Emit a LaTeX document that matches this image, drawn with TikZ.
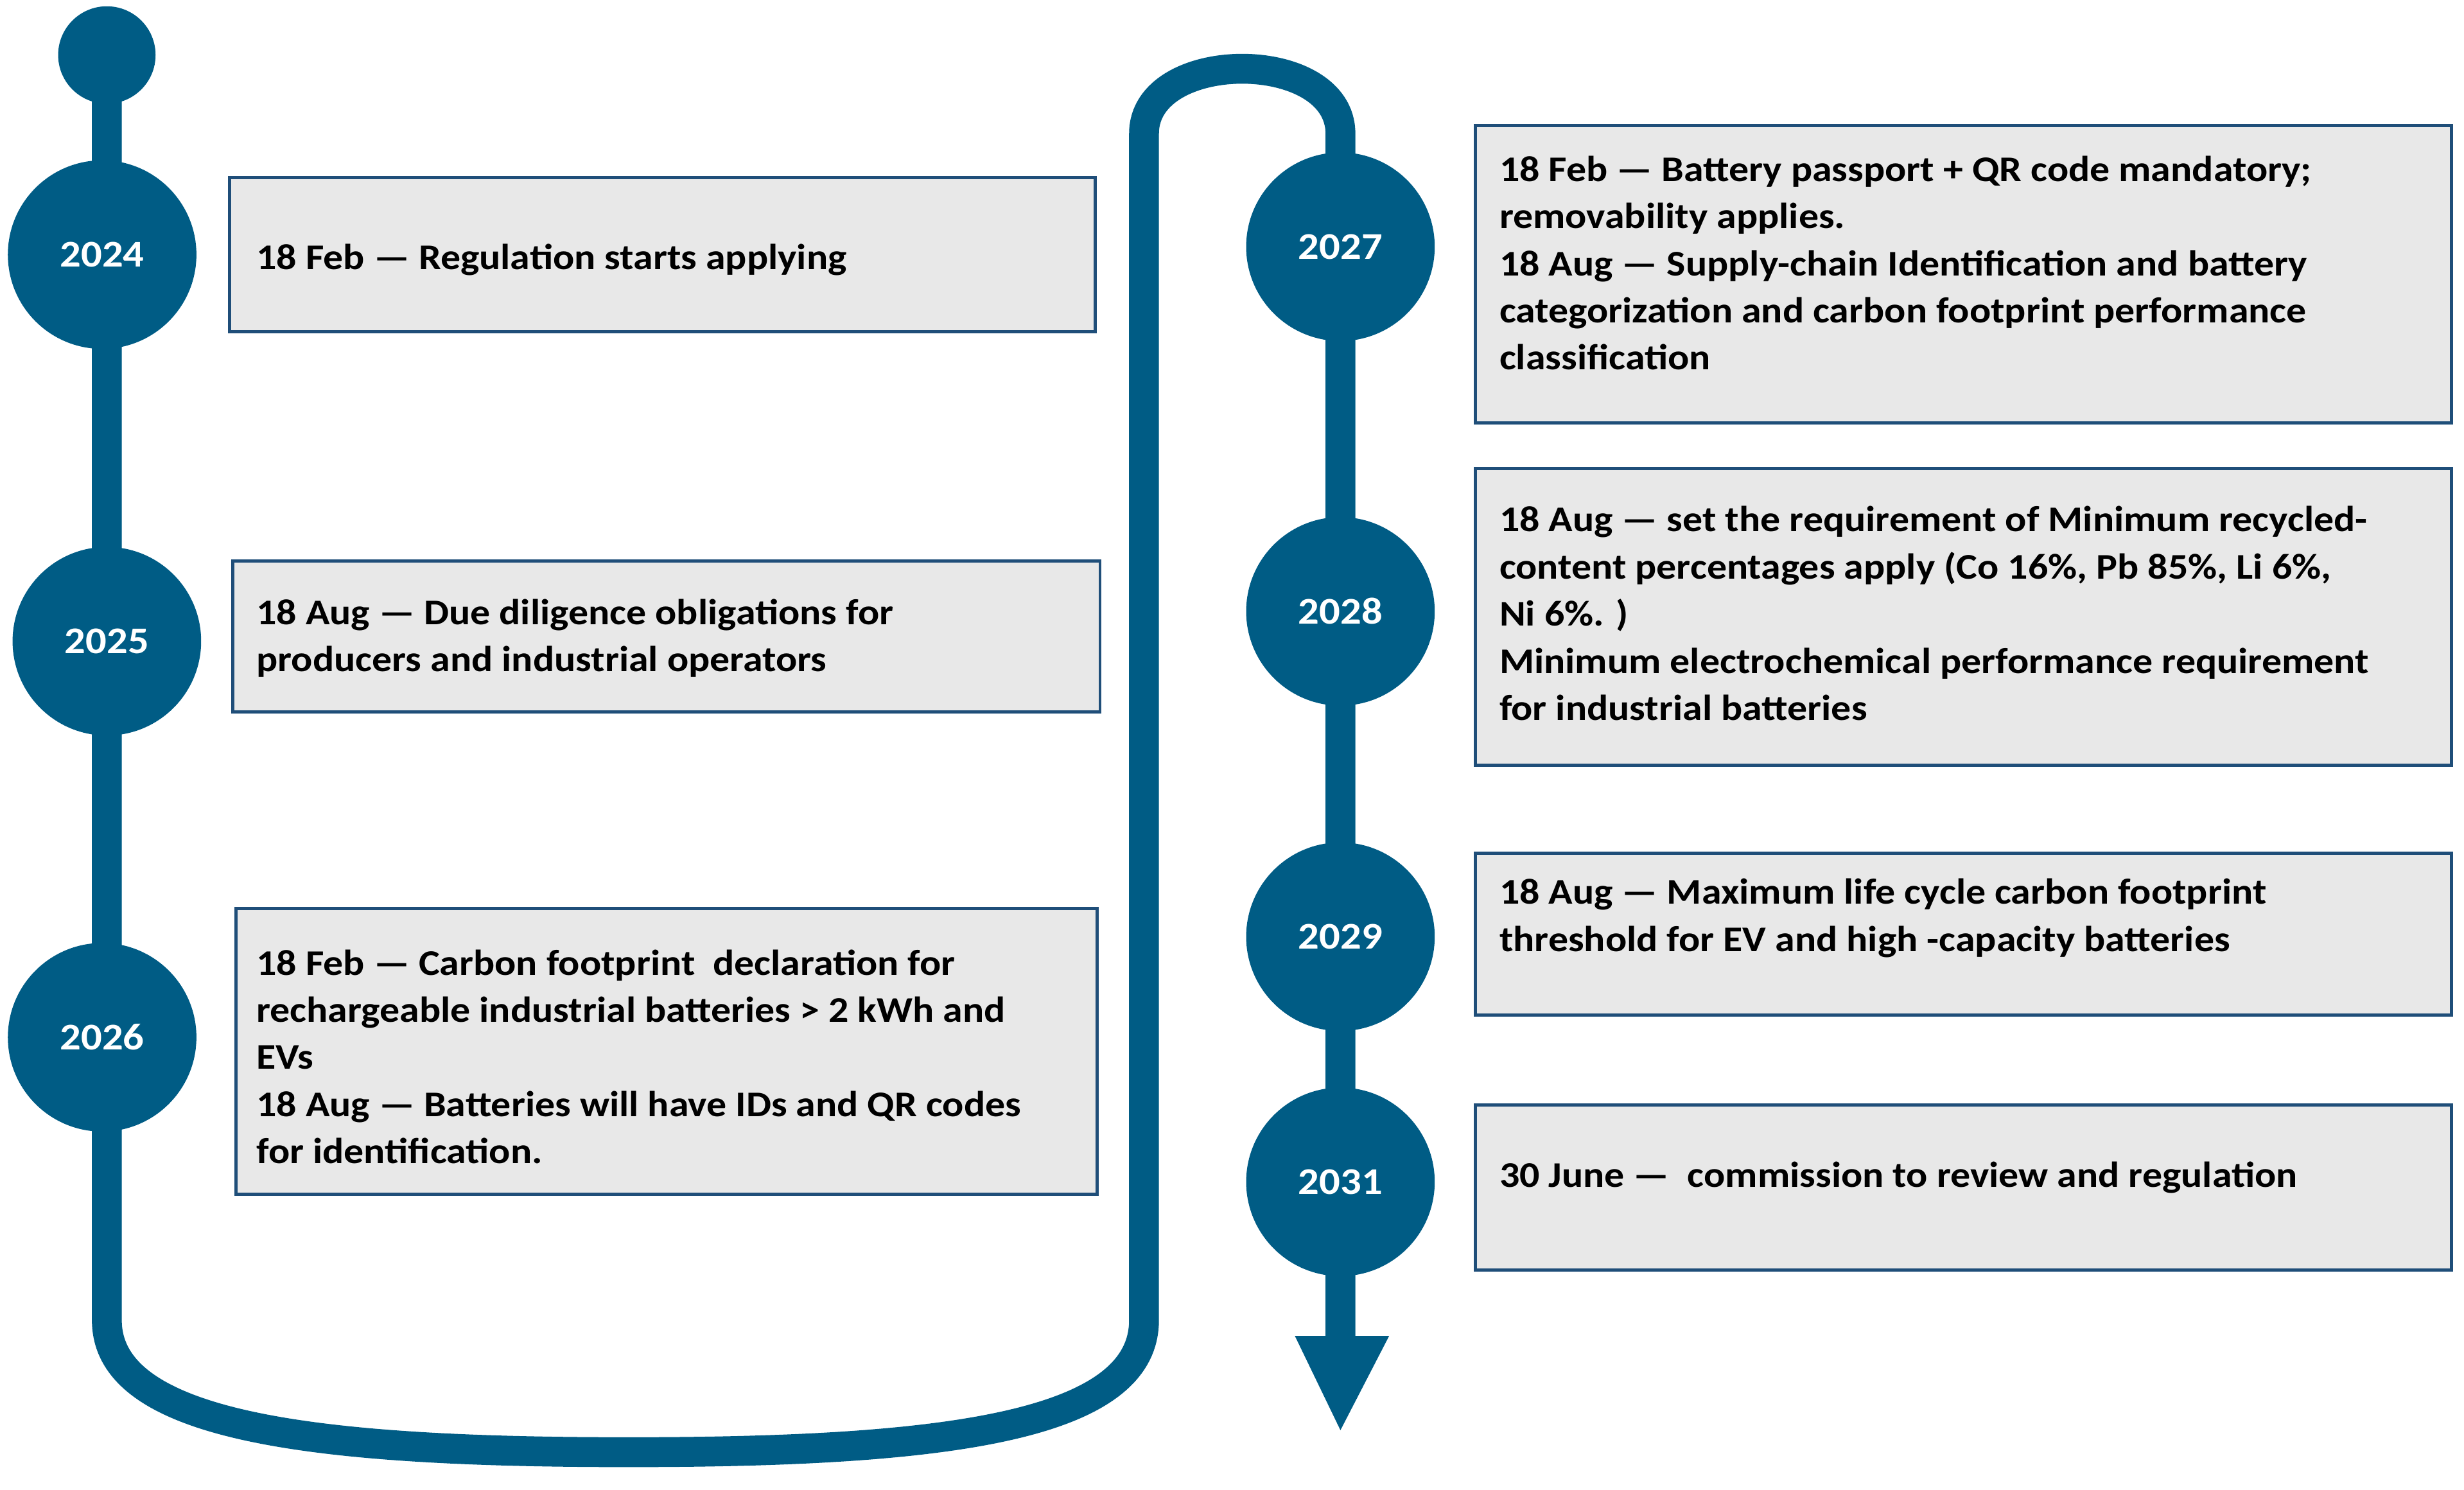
\documentclass[tikz,border=0pt]{standalone}
\usepackage{fontspec}
\setmainfont{Carlito}[FakeStretch=1.1]
\begin{document}
\definecolor{tl}{RGB}{0,92,133}
\definecolor{bx}{RGB}{232,232,232}
\definecolor{bd}{RGB}{31,78,121}
\begin{tikzpicture}[x=1pt,y=-1pt,
  yr/.style={circle,fill=tl,minimum size=120pt,inner sep=0,text=white,font=\fontsize{24}{28}\selectfont\bfseries},
  box/.style={draw=bd,line width=2pt,fill=bx},
  tx/.style={anchor=north west,inner sep=0,align=left,font=\fontsize{23}{30}\selectfont\bfseries}]
\useasboundingbox (0,0) rectangle (1568,948);
\draw[tl,line width=19pt] (68,35) -- (68,840) .. controls (68,908) and (200,924) .. (400,924) .. controls (600,924) and (728,908) .. (728,840) -- (728,85) .. controls (728,30) and (853,30) .. (853,85) -- (853,855);
\node[circle,fill=tl,minimum size=62pt,inner sep=0] (top) at (68,35) {};
\fill[tl] (824,850) -- (884,850) -- (853,910) -- cycle;
\node[yr] (y24) at (65,162) {2024};
\node[yr] (y25) at (68,408) {2025};
\node[yr] (y26) at (65,660) {2026};
\node[yr] (y27) at (853,157) {2027};
\node[yr] (y28) at (853,389) {2028};
\node[yr] (y29) at (853,596) {2029};
\node[yr] (y31) at (853,752) {2031};
\draw[box] (146,113) rectangle (697,211);
\draw[box] (148,357) rectangle (700,453);
\draw[box] (150,578) rectangle (698,760);
\draw[box] (939,80) rectangle (1560,269);
\draw[box] (939,298) rectangle (1560,487);
\draw[box] (939,543) rectangle (1560,646);
\draw[box] (939,703) rectangle (1560,808);
\node[tx] (t1) at (163,155) {18 Feb — Regulation starts applying};
\node[tx] (t2) at (163,381) {18 Aug — Due diligence obligations for\\producers and industrial operators};
\node[tx] (t3) at (163,604) {18 Feb — Carbon footprint\ \ declaration for\\rechargeable industrial batteries > 2 kWh and\\EVs\\18 Aug — Batteries will have IDs and QR codes\\for identification.};
\node[tx] (t4) at (954,99) {18 Feb — Battery passport + QR code mandatory;\\removability applies.\\18 Aug — Supply-chain Identification and battery\\categorization and carbon footprint performance\\classification};
\node[tx] (t5) at (954,322) {18 Aug — set the requirement of Minimum recycled-\\content percentages apply (Co 16\%, Pb 85\%, Li 6\%,\\Ni 6\%. )\\Minimum electrochemical performance requirement\\for industrial batteries};
\node[tx] (t6) at (954,559) {18 Aug — Maximum life cycle carbon footprint\\threshold for EV and high -capacity batteries};
\node[tx] (t7) at (954,739) {30 June —\ \ commission to review and regulation};
\end{tikzpicture}
\end{document}
